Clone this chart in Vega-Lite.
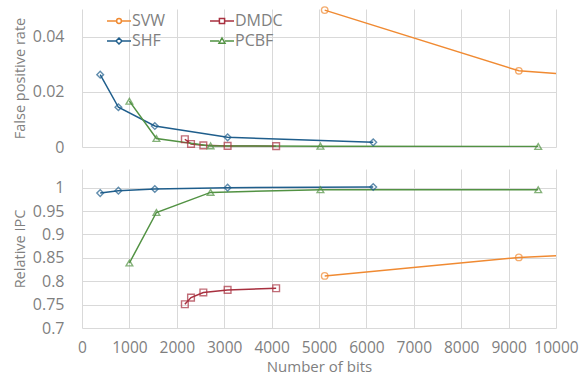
{
  "$schema": "https://vega.github.io/schema/vega-lite/v6.json",
  "padding": {"left": 12, "top": 4, "right": 10, "bottom": 0},
  "config": {
    "font": "Open Sans",
    "view": {"stroke": null},
    "axis": {"domain": false, "ticks": false, "gridColor": "#d9d9d9", "gridWidth": 1, "labelColor": "#7f7f7f", "titleColor": "#7f7f7f", "labelFontSize": 16, "titleFontSize": 14.5, "titleFontWeight": "normal", "labelOverlap": false, "labelFlush": false},
    "concat": {"spacing": 14}
  },
  "datasets": {
    "d": [
      {"series": "SVW", "bits": 5120, "fpr": 0.0496, "ipc": 0.8114},
      {"series": "SVW", "bits": 9216, "fpr": 0.0276, "ipc": 0.851},
      {"series": "SVW", "bits": 18000, "fpr": 0.0170, "ipc": 0.888},
      {"series": "DMDC", "bits": 2170, "fpr": 0.0028, "ipc": 0.7508},
      {"series": "DMDC", "bits": 2300, "fpr": 0.0011, "ipc": 0.765},
      {"series": "DMDC", "bits": 2560, "fpr": 0.0006, "ipc": 0.776},
      {"series": "DMDC", "bits": 3072, "fpr": 0.0004, "ipc": 0.7815},
      {"series": "DMDC", "bits": 4096, "fpr": 0.0003, "ipc": 0.785},
      {"series": "SHF", "bits": 384, "fpr": 0.0262, "ipc": 0.9886},
      {"series": "SHF", "bits": 768, "fpr": 0.0144, "ipc": 0.9936},
      {"series": "SHF", "bits": 1536, "fpr": 0.0076, "ipc": 0.9972},
      {"series": "SHF", "bits": 3072, "fpr": 0.0035, "ipc": 1.0},
      {"series": "SHF", "bits": 6144, "fpr": 0.0017, "ipc": 1.0015},
      {"series": "PCBF", "bits": 1000, "fpr": 0.0166, "ipc": 0.839},
      {"series": "PCBF", "bits": 1570, "fpr": 0.0031, "ipc": 0.947},
      {"series": "PCBF", "bits": 2712, "fpr": 0.0004, "ipc": 0.990},
      {"series": "PCBF", "bits": 5030, "fpr": 0.0003, "ipc": 0.9957},
      {"series": "PCBF", "bits": 9625, "fpr": 0.0002, "ipc": 0.9957}
    ]
  },
  "vconcat": [
    {
      "width": 474,
      "height": 138,
      "data": {"name": "d"},
      "encoding": {
        "x": {"field": "bits", "type": "quantitative", "scale": {"domain": [0, 10000], "nice": false, "zero": false},
              "axis": {"values": [0,1000,2000,3000,4000,5000,6000,7000,8000,9000,10000], "labels": false, "title": null, "grid": true}},
        "y": {"field": "fpr", "type": "quantitative", "scale": {"domain": [0, 0.05], "nice": false},
              "axis": {"values": [0, 0.02, 0.04], "format": "~g", "title": "False positive rate", "labelPadding": 18, "titlePadding": 5}}
      },
      "resolve": {"legend": {"color": "independent", "shape": "independent"}},
      "layer": [
        {"mark": {"type": "line", "strokeWidth": 1.5, "clip": true},
         "encoding": {"color": {"field": "series", "type": "nominal", "scale": {"domain": ["SVW", "DMDC", "SHF", "PCBF"], "range": ["#F08A32", "#A8303F", "#1F5E8C", "#529243"]}, "legend": null}}},
        {"transform": [{"filter": "datum.series === 'SVW' && datum.bits <= 10000"}],
         "mark": {"type": "point", "shape": "circle", "filled": false, "size": 42, "strokeWidth": 1.4},
         "encoding": {"color": {"field": "series", "type": "nominal", "legend": null}}},
        {"transform": [{"filter": "datum.series === 'DMDC'"}],
         "mark": {"type": "point", "shape": "square", "filled": false, "size": 45, "strokeWidth": 1.4},
         "encoding": {"color": {"field": "series", "type": "nominal", "legend": null}}},
        {"transform": [{"filter": "datum.series === 'SHF'"}],
         "mark": {"type": "point", "shape": "diamond", "filled": false, "size": 45, "strokeWidth": 1.4},
         "encoding": {"color": {"field": "series", "type": "nominal", "legend": null}}},
        {"transform": [{"filter": "datum.series === 'PCBF'"}],
         "mark": {"type": "point", "shape": "triangle-up", "filled": false, "size": 45, "strokeWidth": 1.4},
         "encoding": {"color": {"field": "series", "type": "nominal", "legend": null}}},
        {"mark": {"type": "point", "filled": false, "opacity": 0},
         "encoding": {
           "color": {"field": "series", "type": "nominal",
                     "legend": {"orient": "none", "legendX": 26, "legendY": 1, "direction": "horizontal", "columns": 2, "columnPadding": 41, "rowPadding": 1, "padding": 0, "title": null, "symbolSize": 400, "symbolStrokeWidth": 1.5, "symbolOpacity": 1, "symbolFillColor": "transparent", "labelFontSize": 16, "labelColor": "#7f7f7f", "labelOffset": 2}},
           "shape": {"field": "series", "type": "nominal",
                     "scale": {"domain": ["SVW", "DMDC", "SHF", "PCBF"], "range": [
                       "M-1.2,0H-0.24M0.24,0H1.2M0.24,0A0.24,0.24 0 1,1 -0.24,0A0.24,0.24 0 1,1 0.24,0Z",
                       "M-1.2,0H-0.26M0.26,0H1.2M-0.26,-0.26H0.26V0.26H-0.26Z",
                       "M-1.2,0H-0.3M0.3,0H1.2M0,-0.3L0.3,0L0,0.3L-0.3,0Z",
                       "M-1.2,0H-0.3M0.3,0H1.2M0,-0.3L0.3,0.22H-0.3Z"]},
                     "legend": {"orient": "none", "legendX": 26, "legendY": 1, "direction": "horizontal", "columns": 2, "columnPadding": 41, "rowPadding": 1, "padding": 0, "title": null, "symbolSize": 400, "symbolStrokeWidth": 1.5, "symbolOpacity": 1, "symbolFillColor": "transparent", "labelFontSize": 16, "labelColor": "#7f7f7f", "labelOffset": 2}}
         }}
      ]
    },
    {
      "width": 474,
      "height": 159,
      "data": {"name": "d"},
      "encoding": {
        "x": {"field": "bits", "type": "quantitative", "scale": {"domain": [0, 10000], "nice": false, "zero": false},
              "axis": {"values": [0,1000,2000,3000,4000,5000,6000,7000,8000,9000,10000], "format": "d", "title": "Number of bits", "labelFontSize": 15.5, "titleFontSize": 15, "labelPadding": 12, "titlePadding": 4, "grid": true}},
        "y": {"field": "ipc", "type": "quantitative", "scale": {"domain": [0.7, 1.04], "nice": false, "zero": false},
              "axis": {"values": [0.7, 0.75, 0.8, 0.85, 0.9, 0.95, 1], "format": "~g", "title": "Relative IPC", "labelPadding": 18, "titlePadding": 5}}
      },
      "layer": [
        {"mark": {"type": "line", "strokeWidth": 1.5, "clip": true},
         "encoding": {"color": {"field": "series", "type": "nominal", "legend": null}}},
        {"transform": [{"filter": "datum.series === 'SVW' && datum.bits <= 10000"}],
         "mark": {"type": "point", "shape": "circle", "filled": false, "size": 42, "strokeWidth": 1.4},
         "encoding": {"color": {"field": "series", "type": "nominal", "legend": null}}},
        {"transform": [{"filter": "datum.series === 'DMDC'"}],
         "mark": {"type": "point", "shape": "square", "filled": false, "size": 45, "strokeWidth": 1.4},
         "encoding": {"color": {"field": "series", "type": "nominal", "legend": null}}},
        {"transform": [{"filter": "datum.series === 'SHF'"}],
         "mark": {"type": "point", "shape": "diamond", "filled": false, "size": 45, "strokeWidth": 1.4},
         "encoding": {"color": {"field": "series", "type": "nominal", "legend": null}}},
        {"transform": [{"filter": "datum.series === 'PCBF'"}],
         "mark": {"type": "point", "shape": "triangle-up", "filled": false, "size": 45, "strokeWidth": 1.4},
         "encoding": {"color": {"field": "series", "type": "nominal", "legend": null}}}
      ]
    }
  ]
}
